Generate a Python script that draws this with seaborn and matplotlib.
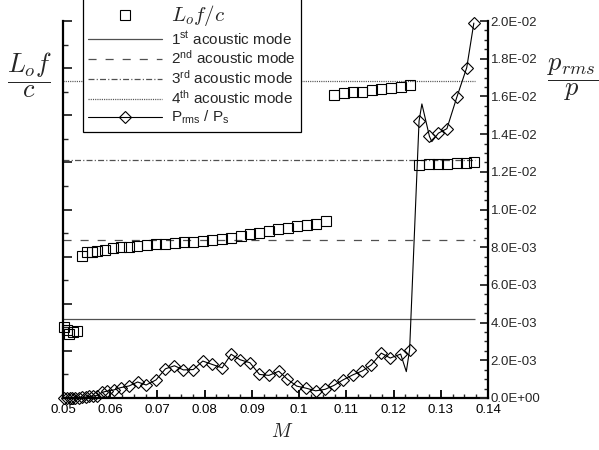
import matplotlib
matplotlib.use('Agg')
import matplotlib.pyplot as plt
import seaborn as sns
from matplotlib.lines import Line2D
from matplotlib.ticker import MultipleLocator, FormatStrFormatter

# Lo f / c (left axis, arbitrary units, squares)
sq_M = [0.0503, 0.0508, 0.0513, 0.0522, 0.0530,
        0.0540, 0.0551, 0.0561, 0.0572, 0.0589, 0.0606, 0.0622, 0.0640, 0.0657,
        0.0677, 0.0697, 0.0717, 0.0737, 0.0757, 0.0776, 0.0796, 0.0816, 0.0836,
        0.0856, 0.0876, 0.0896, 0.0916, 0.0936, 0.0956, 0.0976, 0.0996, 0.1016,
        0.1036, 0.1056,
        0.1074, 0.1094, 0.1114, 0.1134, 0.1154, 0.1174, 0.1194, 0.1215, 0.1234,
        0.1254, 0.1275, 0.1295, 0.1314, 0.1334, 0.1353, 0.1371]
sq_v = [0.150, 0.145, 0.136, 0.141, 0.142,
        0.301, 0.309, 0.310, 0.312, 0.315, 0.318, 0.320, 0.321, 0.322,
        0.324, 0.326, 0.327, 0.328, 0.330, 0.332, 0.333, 0.335, 0.338,
        0.340, 0.344, 0.347, 0.351, 0.354, 0.358, 0.361, 0.365, 0.367,
        0.370, 0.375,
        0.643, 0.647, 0.649, 0.650, 0.653, 0.655, 0.658, 0.661, 0.665,
        0.495, 0.496, 0.497, 0.497, 0.498, 0.499, 0.500]

# acoustic modes
mode_levels = [0.168, 0.336, 0.504, 0.672]
mode_names = ['1$^{\\rm st}$ acoustic mode', '2$^{\\rm nd}$ acoustic mode',
              '3$^{\\rm rd}$ acoustic mode', '4$^{\\rm th}$ acoustic mode']
mode_start = 0.05
mode_end = 0.1372

# Prms / Ps (right axis, diamonds)
dia_M = [0.0502, 0.0508, 0.0514, 0.0520, 0.0526, 0.0533, 0.0540, 0.0548, 0.0556,
         0.0564, 0.0572, 0.0583, 0.0594, 0.0608, 0.0622, 0.0640, 0.0658, 0.0676,
         0.0697, 0.0717, 0.0736, 0.0755, 0.0776, 0.0796, 0.0816, 0.0837, 0.0856,
         0.0875, 0.0896, 0.0916, 0.0936, 0.0957, 0.0975, 0.0995, 0.1015, 0.1035,
         0.1055, 0.1074, 0.1093, 0.1114, 0.1134, 0.1153, 0.1174, 0.1193, 0.1215,
         0.1234, 0.1254, 0.1276, 0.1295, 0.1313, 0.1334, 0.1355, 0.1370]
dia_p = [0.0, 0.0, 0.0, 0.0, 0.00001, 0.00002, 0.00003, 0.00005, 0.00008,
         0.00010, 0.00013, 0.00030, 0.00037, 0.00043, 0.00055, 0.00064, 0.00085, 0.00069,
         0.00096, 0.00155, 0.00171, 0.00149, 0.00151, 0.00196, 0.00178, 0.00160, 0.00232,
         0.00203, 0.00187, 0.00125, 0.00120, 0.00142, 0.00100, 0.00063, 0.00052, 0.00038,
         0.00046, 0.00067, 0.00096, 0.00123, 0.00144, 0.00176, 0.00238, 0.00212, 0.00233,
         0.00256, 0.01469, 0.01388, 0.01405, 0.01429, 0.01596, 0.01753, 0.01989]

# extra vertices of the curve between the diamonds (overshoots of the drawn line)
curve_M_extra = [0.1227, 0.1260, 0.1281]
curve_p_extra = [0.00140, 0.01560, 0.01360]

curve = sorted(zip(dia_M + curve_M_extra, dia_p + curve_p_extra))
curve_M = [c[0] for c in curve]
curve_p = [c[1] for c in curve]

sns.set_style('ticks')
plt.rcParams['font.family'] = ['Liberation Sans', 'DejaVu Sans']
plt.rcParams['mathtext.fontset'] = 'custom'
plt.rcParams['mathtext.rm'] = 'Liberation Sans'
plt.rcParams['mathtext.it'] = 'Liberation Sans:italic'
plt.rcParams['mathtext.bf'] = 'Liberation Sans:bold'
plt.rcParams['lines.scale_dashes'] = False

fig = plt.figure(figsize=(5.99, 4.5), dpi=100)
ax = fig.add_axes([63 / 599, 1 - 398 / 450, 425 / 599, 377 / 450])
ax2 = ax.twinx()

mode_color = '#505050'
mode_styles = ['-', (0, (5.8, 6.5)), (0, (4.3, 1.6, 0.8, 1.6)), (0, (0.8, 0.8))]
for lev, ls in zip(mode_levels, mode_styles):
    ax.hlines(lev, mode_start, mode_end, colors=mode_color, linestyles=ls, linewidth=0.9)

sns.lineplot(x=sq_M, y=sq_v, ax=ax, estimator=None, sort=False, linestyle='',
             marker='s', markersize=6.8, markerfacecolor='none',
             markeredgecolor='black', markeredgewidth=0.8, color='black', clip_on=False)

sns.lineplot(x=curve_M, y=curve_p, ax=ax2, estimator=None, sort=False,
             color='black', linewidth=0.8)
sns.lineplot(x=dia_M, y=dia_p, ax=ax2, estimator=None, sort=False, linestyle='',
             marker='D', markersize=6.5, markerfacecolor='none',
             markeredgecolor='black', markeredgewidth=0.8, color='black', clip_on=False)

ax.set_xlim(0.05, 0.14)
ax.set_ylim(0, 0.8)
ax2.set_ylim(0, 0.02)

ax.xaxis.set_major_locator(MultipleLocator(0.01))
ax.xaxis.set_minor_locator(MultipleLocator(0.0025))
ax.xaxis.set_major_formatter(FormatStrFormatter('%g'))
ax.yaxis.set_major_locator(MultipleLocator(0.1))
ax.yaxis.set_minor_locator(MultipleLocator(0.05))
ax2.yaxis.set_major_locator(MultipleLocator(0.002))
ax2.yaxis.set_minor_locator(MultipleLocator(0.0005))
ax2.yaxis.set_major_formatter(FormatStrFormatter('%.1E'))

ax.tick_params(axis='x', which='major', direction='in', length=6, width=1.3,
               labelsize=9.5, pad=4, colors='black')
ax.tick_params(axis='x', which='minor', direction='in', length=3, width=1.0)
ax.tick_params(axis='y', which='major', direction='in', length=6.5, width=1.3,
               labelleft=False)
ax.tick_params(axis='y', which='minor', direction='in', length=3.5, width=1.0)
ax2.tick_params(axis='y', which='major', direction='in', length=6, width=1.3,
                labelsize=9.5, pad=2)
ax2.tick_params(axis='y', which='minor', direction='in', length=3, width=1.0)

for a in (ax, ax2):
    a.spines['top'].set_visible(False)
    for s in ('left', 'bottom', 'right'):
        a.spines[s].set_linewidth(1.6)
        a.spines[s].set_color('black')
ax.spines['right'].set_visible(False)
ax2.spines['left'].set_visible(False)
ax2.spines['bottom'].set_visible(False)

ax.set_xlabel('$M$', fontsize=14, math_fontfamily='cm', va='center')
ax.xaxis.set_label_coords(0.515, -0.09)
ax.set_ylabel(r'$\dfrac{L_o f}{c}$', rotation=0, fontsize=19, math_fontfamily='cm',
              va='center', ha='center')
ax.yaxis.set_label_coords(-0.079, 0.856)
ax2.set_ylabel(r'$\dfrac{p_{rms}}{p}$', rotation=0, fontsize=19, math_fontfamily='cm',
               va='center', ha='center')
ax2.yaxis.set_label_coords(1.2, 0.845)

handles = [Line2D([], [], linestyle='', marker='s', markersize=6.8, markerfacecolor='none',
                  markeredgecolor='black', markeredgewidth=0.8)]
for ls in mode_styles:
    handles.append(Line2D([], [], color=mode_color, linestyle=ls, linewidth=0.9))
handles.append(Line2D([], [], color='black', linewidth=0.8, marker='D', markersize=6.5,
                      markerfacecolor='none', markeredgecolor='black', markeredgewidth=0.8))
labels = ['$L_of/c$'] + mode_names + ['P$_{\\rm rms}$ / P$_{\\rm s}$']

leg = ax2.legend(handles, labels, loc='upper left', bbox_to_anchor=(83 / 599, 1.006),
                 bbox_transform=fig.transFigure, frameon=True, fancybox=False,
                 edgecolor='black', framealpha=1, fontsize=11, handlelength=4.8,
                 handletextpad=0.6, borderpad=0.35, labelspacing=0.13, borderaxespad=0,
                 numpoints=1)
leg.get_frame().set_linewidth(0.9)
leg.get_texts()[0].set_math_fontfamily('cm')
leg.get_texts()[0].set_fontsize(15)

fig.savefig('out.png', dpi=100)
